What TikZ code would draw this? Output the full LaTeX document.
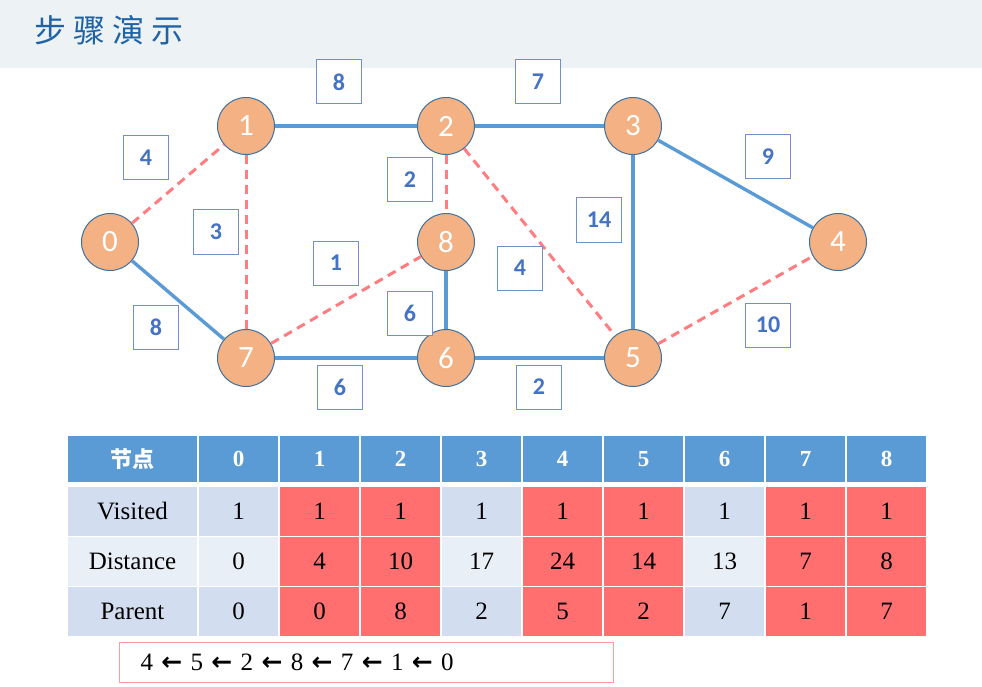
\documentclass[tikz,border=0pt]{standalone}
\usepackage{fontspec}
\setmainfont{Liberation Serif}
\newfontfamily\cjk{Noto Sans CJK SC}
\newfontfamily\carlito{Carlito}
\newfontfamily\djv{DejaVu Sans}
\definecolor{barbg}{HTML}{EDF2F4}
\definecolor{titleblue}{HTML}{1F63A6}
\definecolor{nodefill}{HTML}{F4B183}
\definecolor{nodeborder}{HTML}{41719C}
\definecolor{edgeblue}{HTML}{5B9BD5}
\definecolor{edgered}{HTML}{FF7C80}
\definecolor{boxborder}{HTML}{6F8FD0}
\definecolor{labelblue}{HTML}{4472C4}
\definecolor{headblue}{HTML}{5B9BD5}
\definecolor{rowa}{HTML}{D2DEEF}
\definecolor{rowb}{HTML}{E9EFF7}
\definecolor{cellred}{HTML}{FF6F6F}
\definecolor{pathred}{HTML}{FF9A9A}
\tikzset{
  vtx/.style={circle, fill=nodefill, draw=nodeborder, line width=1pt, minimum size=57pt, inner sep=0pt, text=white, font=\carlito\fontsize{31}{31}\selectfont},
  wbox/.style={draw=boxborder, fill=white, line width=1pt, minimum width=45pt, minimum height=44pt, inner sep=0pt, text=labelblue, font=\carlito\bfseries\fontsize{24}{24}\selectfont},
  solidedge/.style={draw=edgeblue, line width=3.4pt},
  dashedge/.style={draw=edgered, line width=3pt, dash pattern=on 9pt off 6pt},
  cell/.style={draw=white, line width=1.5pt, minimum height=50pt, minimum width=81pt, inner sep=0pt, font=\fontsize{25}{25}\selectfont},
  headcell/.style={cell, fill=headblue, minimum height=48pt, text=white, font=\bfseries\fontsize{23}{23}\selectfont}
}
\begin{document}
\begin{tikzpicture}[x=1pt,y=-1pt]
\useasboundingbox (0,0) rectangle (982,687);
\fill[white] (0,0) rectangle (982,687);
\fill[barbg] (0,0) rectangle (982,68);
\node[anchor=west, text=titleblue, font=\cjk\fontsize{32}{32}\selectfont, inner sep=0pt] (title) at (34,30) {步\hspace{7pt}骤\hspace{7pt}演\hspace{7pt}示};

% vertices
\node[vtx] (v0) at (110,242) {0};
\node[vtx] (v1) at (246,126) {1};
\node[vtx] (v2) at (446,126) {2};
\node[vtx] (v3) at (633,126) {3};
\node[vtx] (v4) at (838,242) {4};
\node[vtx] (v5) at (633,358) {5};
\node[vtx] (v6) at (446,358) {6};
\node[vtx] (v7) at (246,358) {7};
\node[vtx] (v8) at (446,242) {8};

% edges
\draw[solidedge] (v1) -- (v2);
\draw[solidedge] (v2) -- (v3);
\draw[solidedge] (v3) -- (v5);
\draw[solidedge] (v3) -- (v4);
\draw[solidedge] (v0) -- (v7);
\draw[solidedge] (v7) -- (v6);
\draw[solidedge] (v6) -- (v5);
\draw[solidedge] (v8) -- (v6);
\draw[dashedge] (v0) -- (v1);
\draw[dashedge] (v1) -- (v7);
\draw[dashedge] (v2) -- (v8);
\draw[dashedge] (v2) -- (v5);
\draw[dashedge] (v7) -- (v8);
\draw[dashedge] (v5) -- (v4);

% weight labels
\node[wbox] (w12) at (339,82) {8};
\node[wbox] (w23) at (538,82) {7};
\node[wbox] (w01) at (146,158) {4};
\node[wbox] (w17) at (216,232) {3};
\node[wbox] (w28) at (410,180) {2};
\node[wbox] (w35) at (599,220) {14};
\node[wbox] (w34) at (768,157) {9};
\node[wbox] (w78) at (336,263) {1};
\node[wbox] (w25) at (520,268) {4};
\node[wbox] (w86) at (410,313) {6};
\node[wbox] (w07) at (156,327) {8};
\node[wbox] (w54) at (768,325) {10};
\node[wbox] (w76) at (340,387) {6};
\node[wbox] (w65) at (539,387) {2};

% table header
\node[headcell, minimum width=131pt, font=\cjk\bfseries\fontsize{22}{22}\selectfont] (h) at (132.5,459) {节点};
\foreach \i in {0,...,8} {
  \node[headcell] (h\i) at (238.5+81*\i,459) {\i};
}
% row labels
\node[cell, fill=rowa, minimum width=131pt] (rv) at (132.5,511.5) {Visited};
\node[cell, fill=rowb, minimum width=131pt] (rd) at (132.5,561.5) {Distance};
\node[cell, fill=rowa, minimum width=131pt] (rp) at (132.5,611.5) {Parent};
% data
\foreach \i/\vis/\dist/\prt/\red in {0/1/0/0/0, 1/1/4/0/1, 2/1/10/8/1, 3/1/17/2/0, 4/1/24/5/1, 5/1/14/2/1, 6/1/13/7/0, 7/1/7/1/1, 8/1/8/7/1} {
  \ifnum\red=1
    \node[cell, fill=cellred] (cv\i) at (238.5+81*\i,511.5) {\vis};
    \node[cell, fill=cellred] (cd\i) at (238.5+81*\i,561.5) {\dist};
    \node[cell, fill=cellred] (cp\i) at (238.5+81*\i,611.5) {\prt};
  \else
    \node[cell, fill=rowa] (cv\i) at (238.5+81*\i,511.5) {\vis};
    \node[cell, fill=rowb] (cd\i) at (238.5+81*\i,561.5) {\dist};
    \node[cell, fill=rowa] (cp\i) at (238.5+81*\i,611.5) {\prt};
  \fi
}

% path box
\node[draw=pathred, line width=1pt, anchor=west, minimum height=40pt, text width=472pt, inner xsep=11pt, inner ysep=0pt, align=left, font=\fontsize{25}{25}\selectfont] (path) at (119,662) {\hspace*{10pt}4 {\djv\bfseries ←} 5 {\djv\bfseries ←} 2 {\djv\bfseries ←} 8 {\djv\bfseries ←} 7 {\djv\bfseries ←} 1 {\djv\bfseries ←} 0};
\end{tikzpicture}
\end{document}
